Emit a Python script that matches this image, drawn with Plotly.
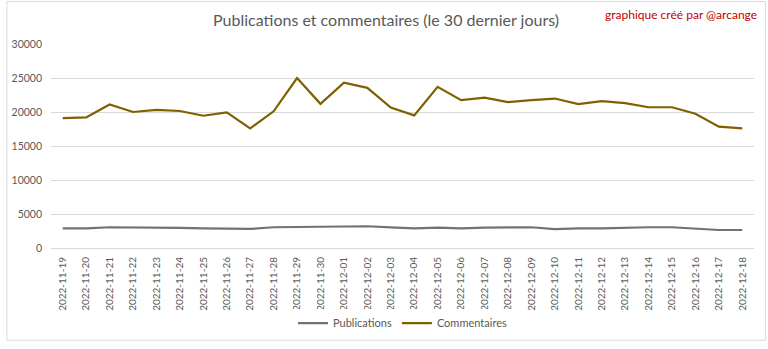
import plotly.graph_objects as go

dates = ["2022-11-19","2022-11-20","2022-11-21","2022-11-22","2022-11-23","2022-11-24",
         "2022-11-25","2022-11-26","2022-11-27","2022-11-28","2022-11-29","2022-11-30",
         "2022-12-01","2022-12-02","2022-12-03","2022-12-04","2022-12-05","2022-12-06",
         "2022-12-07","2022-12-08","2022-12-09","2022-12-10","2022-12-11","2022-12-12",
         "2022-12-13","2022-12-14","2022-12-15","2022-12-16","2022-12-17","2022-12-18"]

publications = [2900, 2900, 3050, 3050, 2950, 2950, 2900, 2820, 2800, 3050, 3100, 3200,
                3200, 3200, 3030, 2900, 3000, 2900, 3000, 3050, 3050, 2780, 2900, 2900,
                3000, 3050, 3050, 2900, 2650, 2650]

commentaires = [19100, 19200, 21100, 20000, 20300, 20150, 19450, 19950, 17600, 20100,
                25000, 21200, 24300, 23550, 20650, 19500, 23700, 21750, 22100, 21450,
                21750, 21980, 21150, 21600, 21300, 20700, 20700, 19750, 17850, 17600]

title_text = "Publications et commentaires (le 30 dernier jours)"
credit_text = "graphique créé par @arcange"

FONT = "Lato"
TXT = "#595959"

fig = go.Figure()
fig.add_trace(go.Scatter(x=dates, y=publications, mode="lines", name="Publications",
                         line=dict(color="#757171", width=2.2)))
fig.add_trace(go.Scatter(x=dates, y=commentaires, mode="lines", name="Commentaires",
                         line=dict(color="#7F6000", width=2.2)))

L, R, T, B = 45, 14, 44, 96
W, H = 768, 349
pw, ph = W - L - R, H - T - B

def px(x):
    return (x - L) / pw

def py(y):
    return (H - B - y) / ph

fig.update_layout(
    width=W, height=H,
    margin=dict(l=L, r=R, t=T, b=B, pad=0),
    paper_bgcolor="white", plot_bgcolor="white",
    font=dict(family=FONT, color=TXT, size=11),
    showlegend=True,
    legend=dict(orientation="h", x=0.5, xanchor="center", y=py(330), yanchor="middle",
                font=dict(size=11, color=TXT), itemwidth=30, tracegroupgap=0),
    xaxis=dict(type="category", range=[-0.5, len(dates) - 0.5], tickangle=-90,
               showgrid=False, showline=False, zeroline=False, ticks="",
               tickfont=dict(size=10, color=TXT), fixedrange=True,
               ticklabelstandoff=6),
    yaxis=dict(range=[0, 30000], tickvals=[0, 5000, 10000, 15000, 20000, 25000, 30000],
               ticktext=["0", "5000", "10000", "15000", "20000", "25000", "30000"],
               showgrid=True, gridcolor="#d9d9d9", gridwidth=1,
               zeroline=True, zerolinecolor="#d9d9d9", zerolinewidth=1,
               showline=False, ticks="", tickfont=dict(size=10.5, color=TXT),
               ticklabelstandoff=8),
    shapes=[dict(type="rect", xref="paper", yref="paper",
                 x0=px(0.5), x1=px(765.5), y0=py(347.5), y1=py(0.5),
                 line=dict(color="#d9d9d9", width=1), fillcolor="rgba(0,0,0,0)", layer="below")],
    annotations=[
        dict(text=title_text, xref="paper", yref="paper", x=px(383), y=py(19),
             xanchor="center", yanchor="middle", showarrow=False,
             font=dict(family=FONT, size=16, color=TXT)),
        dict(text=credit_text, xref="paper", yref="paper", x=px(759), y=py(13.5),
             xanchor="right", yanchor="middle", showarrow=False,
             font=dict(family=FONT, size=12, color="#C00000")),
    ],
)

fig.write_html("out.html")
